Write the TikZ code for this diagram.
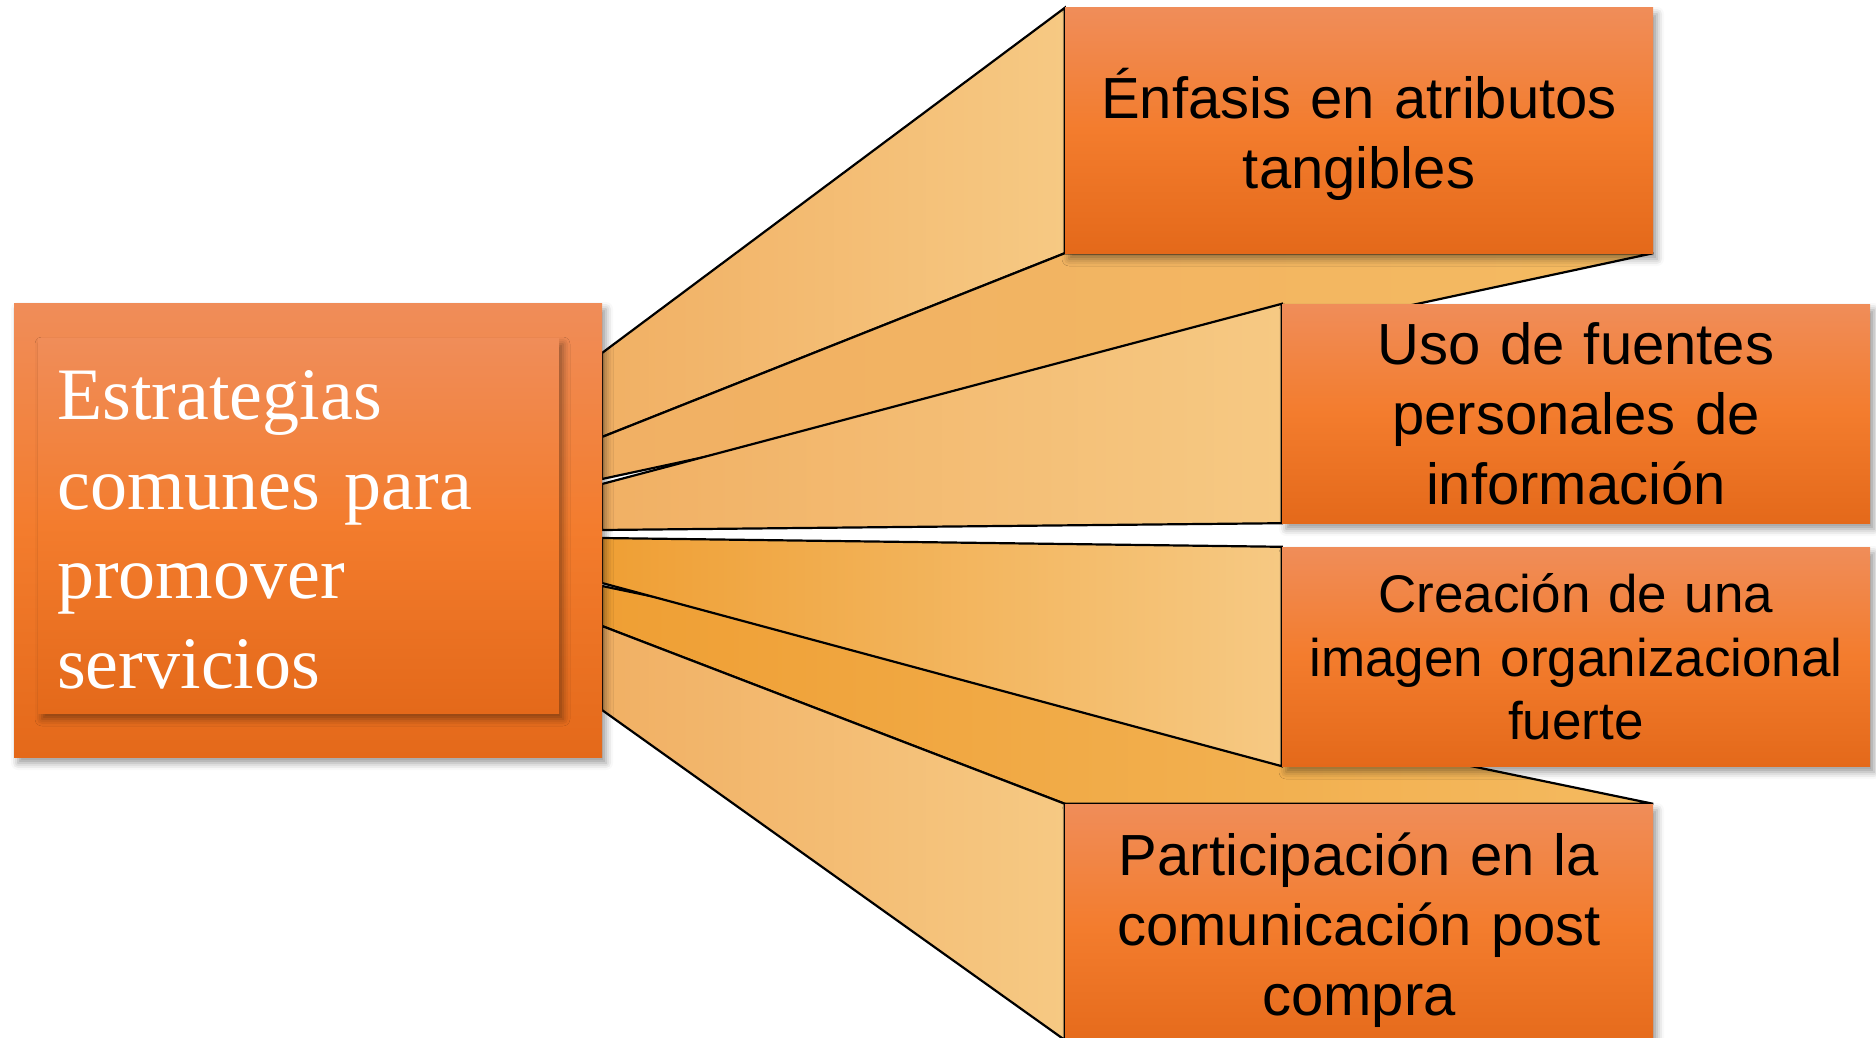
\documentclass[tikz,border=0pt]{standalone}
\usepackage{fontspec}
\setmainfont{Liberation Serif}
\newfontfamily\arialf{Liberation Sans}
\newfontfamily\timesf{Liberation Serif}
\usetikzlibrary{shadows.blur,backgrounds}
\definecolor{bxtop}{HTML}{F08D59}
\definecolor{bxmid}{HTML}{F37C2D}
\definecolor{bxbot}{HTML}{E4691A}
\definecolor{facelight}{HTML}{F6C983}
\definecolor{facepale}{HTML}{F1B064}
\definecolor{facedeep}{HTML}{EF9F34}
\definecolor{facedeepR}{HTML}{F4BA60}
\begin{document}
\begin{tikzpicture}[x=1pt,y=-1pt,
  obox/.style={rectangle, inner sep=0pt, top color=bxtop, bottom color=bxbot, middle color=bxmid,
    blur shadow={shadow xshift=4pt, shadow yshift=-6pt, shadow blur radius=7pt, shadow opacity=40}},
  rtext/.style={anchor=base, inner sep=0pt, align=center, text width=570pt, text=black,
    font=\arialf\fontsize{58}{70}\selectfont},
  face/.style={draw=black, line width=2.2pt, miter limit=4},
]
\useasboundingbox (0,0) rectangle (1876,1038);

% left box
\node[obox, minimum width=588pt, minimum height=454pt] (lout) at (308,530) {};
\node[obox, minimum width=521pt, minimum height=375pt] (lin) at (298.5,525.5) {};
\node[anchor=base west, inner sep=0pt, align=left, text width=483pt, text=white,
  font=\timesf\fontsize{74}{89.7}\selectfont] (tl) at (57,419.5)
  {Estrategias\\comunes para\\promover\\servicios};

% right boxes
\node[obox, minimum width=588pt, minimum height=245pt] (b1) at (1359,130.5) {};
\node[obox, minimum width=588pt, minimum height=219pt] (b2) at (1576,413.5) {};
\node[obox, minimum width=588pt, minimum height=219pt] (b3) at (1576,656.5) {};
\node[obox, minimum width=588pt, minimum height=250pt] (b4) at (1359,929) {};

\node[rtext] (t1) at (1359,119) {Énfasis en atributos\\tangibles};
\node[rtext] (t2) at (1576,364.5) {Uso de fuentes\\personales de\\información};
\node[rtext, font=\arialf\fontsize{53}{63.6}\selectfont] (t3) at (1576,612.5) {Creación de una\\imagen organizacional\\fuerte};
\node[rtext] (t4) at (1359,875) {Participación en la\\comunicación post\\compra};

% back points on the left box edge
\coordinate (a1) at (602,353);
\coordinate (a2) at (602,437);
\coordinate (a3) at (602,479);
\coordinate (c1) at (602,484);
\coordinate (c2) at (602,530);
\coordinate (d1) at (602,538);
\coordinate (d2) at (602,583);
\coordinate (e1) at (602,586);
\coordinate (e2) at (602,626);
\coordinate (e3) at (602,710);
\coordinate (low) at (0,1040);

\begin{pgfonlayer}{background}
  % frustum of box 1
  \path[face, left color=facepale, right color=facelight] (a1) -- (b1.north west) -- (b1.south west) -- (a2) -- cycle;
  \path[face, left color=facepale, middle color=facedeep, right color=facedeepR] (a2) -- (b1.south west) -- (b1.south east) -- (a3) -- cycle;
  % frustum of box 4
  \path[face, left color=facedeep, right color=facedeepR] (e1) -- (b4.north east) -- (b4.north west) -- (e2) -- cycle;
  \path[face, left color=facepale, right color=facelight] (e2) -- (b4.north west) -- (b4.west |- low) -- (e3) -- cycle;
  % frustum of box 2
  \path[face, left color=facepale, right color=facelight] (c1) -- (b2.north west) -- (b2.south west) -- (c2) -- cycle;
  % frustum of box 3
  \path[face, left color=facedeep, right color=facelight] (d1) -- (b3.north west) -- (b3.south west) -- (d2) -- cycle;
\end{pgfonlayer}
\end{tikzpicture}
\end{document}
